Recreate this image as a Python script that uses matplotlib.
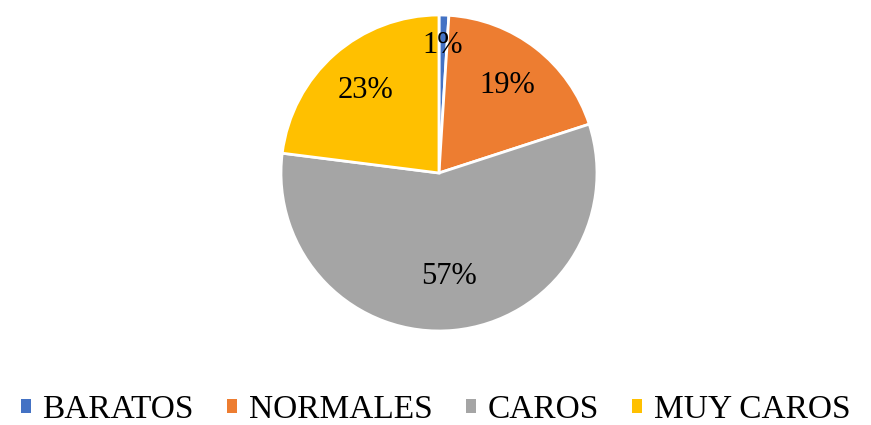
import matplotlib
matplotlib.use('Agg')
import matplotlib.pyplot as plt
import numpy as np
from matplotlib.patches import Patch

categories = ["BARATOS", "NORMALES", "CAROS", "MUY CAROS"]
shares = [1, 19, 57, 23]
colors = ["#4472C4", "#ED7D31", "#A5A5A5", "#FFC000"]
# radial position of each percentage label (fraction of radius)
label_dist = [0.81, 0.70, 0.66, 0.70]

plt.rcParams['font.family'] = ['Liberation Serif', 'DejaVu Serif']

fig = plt.figure(figsize=(8.71, 4.25), dpi=100)
ax = fig.add_axes([0.504 - 0.1814, 0.593 - 0.3718, 0.3628, 0.7435])

wedges, _, autotexts = ax.pie(
    shares, colors=colors, startangle=90, counterclock=False,
    autopct='%1.0f%%', pctdistance=0.7,
    wedgeprops=dict(edgecolor='white', linewidth=2),
    textprops=dict(fontsize=22, color='black'),
)
for w, t, d in zip(wedges, autotexts, label_dist):
    mid = np.deg2rad((w.theta1 + w.theta2) / 2)
    t.set_position((d * np.cos(mid), d * np.sin(mid)))

ax.set_xlim(-1, 1)
ax.set_ylim(-1, 1)
ax.set_aspect('equal')

handles = [Patch(facecolor=c, edgecolor='none') for c in colors]
fig.legend(
    handles, categories, loc='center', bbox_to_anchor=(0.5, 0.036),
    ncol=4, frameon=False, fontsize=24, handlelength=0.3, handleheight=0.3,
    handletextpad=0.35, columnspacing=1.0, borderpad=0, borderaxespad=0,
)

fig.savefig('out.png', dpi=100)
